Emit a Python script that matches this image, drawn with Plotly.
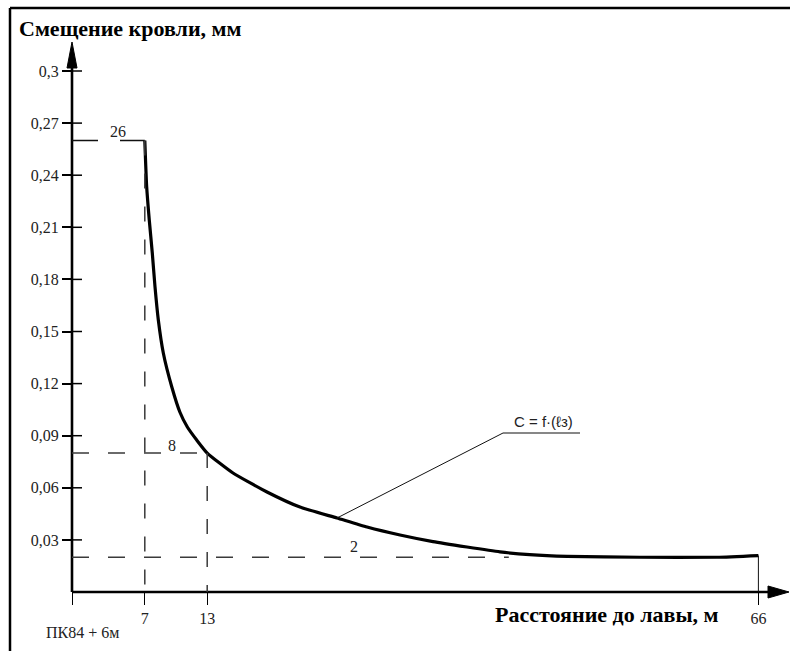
import plotly.graph_objects as go

# ---------------- data ----------------
dist_m = [7.0, 7.18, 7.43, 7.72, 7.98, 8.30, 8.78, 9.59, 10.38, 11.09, 11.99, 13.0,
          15.48, 18.75, 21.92, 25.48, 28.37, 31.54, 34.71, 37.98, 41.15, 44.0,
          47.6, 54.6, 62.0, 66.0]
displacement_mm = [0.26, 0.2334, 0.2142, 0.1952, 0.1758, 0.1566, 0.1376, 0.1182, 0.1035,
                   0.0950, 0.0875, 0.080, 0.0685, 0.0576, 0.0489, 0.0426, 0.0374, 0.0328,
                   0.0290, 0.0259, 0.0231, 0.0215, 0.0205, 0.0200, 0.0200, 0.0210]

y_tick_vals = [0.03, 0.06, 0.09, 0.12, 0.15, 0.18, 0.21, 0.24, 0.27, 0.30]
y_tick_text = ["0,03", "0,06", "0,09", "0,12", "0,15", "0,18", "0,21", "0,24", "0,27", "0,3"]
x_tick_vals = [0, 7, 13, 66]
x_tick_text = ["", "7", "13", "66"]
origin_label = "ПК84 + 6м"

# marked points: (distance, displacement, label)
marks_x = [7, 13, 42]
marks_y = [0.26, 0.08, 0.02]
marks_label = ["26", "8", "2"]
end_x = 66
end_y = 0.0210
leader_point = (25.48, 0.0426)

title_y = "Смещение кровли, мм"
title_x = "Расстояние до лавы, м"
formula = "C = f·(ℓз)"

# ---------------- geometry ----------------
W, H = 790, 651
X0PX, PX_PER_X = 72, 10.4          # x = 0 at pixel 72
Y0PX, PX_PER_Y = 592, 52.1 / 0.03  # y = 0 at pixel 592 (from top)

xr = [-X0PX / PX_PER_X, (W - X0PX) / PX_PER_X]
yr = [-(H - Y0PX) / PX_PER_Y, Y0PX / PX_PER_Y]

def dx(px):  # pixel length -> x units
    return px / PX_PER_X

def dy(px):
    return px / PX_PER_Y

def X(px):
    return (px - X0PX) / PX_PER_X

def Y(py):
    return (Y0PX - py) / PX_PER_Y

SERIF = "Liberation Serif, Times New Roman, serif"
INK = "#111"
DASH_COL = "#3a3a3a"

fig = go.Figure()

fig.add_trace(go.Scatter(
    x=dist_m, y=displacement_mm, mode="lines",
    line=dict(color="black", width=3.2, shape="spline", smoothing=0.5),
    hoverinfo="skip", showlegend=False))

shapes = []
# axes lines
shapes.append(dict(type="line", xref="x", yref="y", x0=0, y0=0, x1=X(775), y1=0,
                   line=dict(color="black", width=2.6)))
shapes.append(dict(type="line", xref="x", yref="y", x0=0, y0=0, x1=0, y1=Y(60),
                   line=dict(color="black", width=2.6)))
# arrowheads
shapes.append(dict(type="path", xref="x", yref="y",
                   path=f"M {-dx(5)} {Y(68)} L 0 {Y(42)} L {dx(5)} {Y(68)} Z",
                   fillcolor="black", line=dict(color="black", width=1)))
shapes.append(dict(type="path", xref="x", yref="y",
                   path=f"M {X(768)} {dy(6)} L {X(789)} 0 L {X(768)} {-dy(6)} Z",
                   fillcolor="black", line=dict(color="black", width=1)))
# inner halves of y ticks
for v in y_tick_vals:
    shapes.append(dict(type="line", xref="x", yref="y", x0=0, x1=dx(10), y0=v, y1=v,
                       line=dict(color="black", width=1.5)))

# guide lines for marked points
dash_h = "17px,19px"
dash_v = "15px,18px"
# 0.26 level
shapes.append(dict(type="line", xref="x", yref="y", x0=0, x1=marks_x[0], y0=marks_y[0], y1=marks_y[0],
                   line=dict(color=INK, width=1.5, dash="26px,22px")))
shapes.append(dict(type="line", xref="x", yref="y", x0=marks_x[0], x1=marks_x[0], y0=marks_y[0], y1=0,
                   line=dict(color=DASH_COL, width=1.5, dash=dash_v)))
# 0.08 level
shapes.append(dict(type="line", xref="x", yref="y", x0=0, x1=marks_x[1], y0=marks_y[1], y1=marks_y[1],
                   line=dict(color=DASH_COL, width=1.5, dash=dash_h)))
shapes.append(dict(type="line", xref="x", yref="y", x0=marks_x[1], x1=marks_x[1], y0=marks_y[1], y1=0,
                   line=dict(color=DASH_COL, width=1.5, dash=dash_v)))
# 0.02 level
shapes.append(dict(type="line", xref="x", yref="y", x0=0, x1=marks_x[2], y0=marks_y[2], y1=marks_y[2],
                   line=dict(color=DASH_COL, width=1.5, dash=dash_h)))
# end vertical at 66
shapes.append(dict(type="line", xref="x", yref="y", x0=end_x, x1=end_x, y0=end_y, y1=0,
                   line=dict(color=INK, width=1)))
# leader line + underline for formula
lx, ly = X(503), Y(433)
shapes.append(dict(type="line", xref="x", yref="y", x0=leader_point[0], y0=leader_point[1], x1=lx, y1=ly,
                   line=dict(color=INK, width=1)))
shapes.append(dict(type="line", xref="x", yref="y", x0=lx, y0=ly, x1=X(580), y1=ly,
                   line=dict(color=INK, width=1.2)))
# frame
shapes.append(dict(type="line", xref="paper", yref="paper", x0=10 / W, x1=1, y0=1 - 8 / H, y1=1 - 8 / H,
                   line=dict(color="black", width=2.5)))
shapes.append(dict(type="line", xref="paper", yref="paper", x0=10 / W, x1=10 / W, y0=0, y1=1 - 8 / H,
                   line=dict(color="black", width=2.5)))

annotations = []
label_pos = [(118, 131), (172, 445), (354, 546)]
for (px, py), lab in zip(label_pos, marks_label):
    annotations.append(dict(x=X(px), y=Y(py), xref="x", yref="y", text=lab, showarrow=False,
                            font=dict(family=SERIF, size=16, color="#222")))
annotations.append(dict(x=X(543), y=Y(421), xref="x", yref="y", text=formula, showarrow=False,
                        font=dict(family="Liberation Sans, Arial, sans-serif", size=15, color="#222")))
annotations.append(dict(x=17 / W, y=1 - 29 / H, xref="paper", yref="paper", text=f"<b>{title_y}</b>",
                        xanchor="left", yanchor="middle", showarrow=False,
                        font=dict(family=SERIF, size=22, color="black")))
annotations.append(dict(x=X(607), y=Y(614), xref="x", yref="y", text=f"<b>{title_x}</b>",
                        xanchor="center", yanchor="middle", showarrow=False,
                        font=dict(family=SERIF, size=22, color="black")))
annotations.append(dict(x=X(82), y=Y(632), xref="x", yref="y", text=origin_label,
                        xanchor="center", yanchor="middle", showarrow=False,
                        font=dict(family=SERIF, size=16, color="#222")))

fig.update_layout(
    width=W, height=H,
    margin=dict(l=0, r=0, t=0, b=0),
    paper_bgcolor="white", plot_bgcolor="white",
    showlegend=False,
    shapes=shapes, annotations=annotations,
    xaxis=dict(range=xr, domain=[0, 1], anchor="free", position=(H - Y0PX) / H,
               showgrid=False, zeroline=False, showline=False,
               tickmode="array", tickvals=x_tick_vals, ticktext=x_tick_text,
               ticks="outside", ticklen=12, tickwidth=1.2, tickcolor="black",
               tickfont=dict(family=SERIF, size=16, color="#222"), fixedrange=True),
    yaxis=dict(range=yr, domain=[0, 1], anchor="free", position=X0PX / W,
               showgrid=False, zeroline=False, showline=False,
               tickmode="array", tickvals=y_tick_vals, ticktext=y_tick_text,
               ticks="outside", ticklen=10, tickwidth=1.5, tickcolor="black",
               tickfont=dict(family=SERIF, size=16, color="#222"), fixedrange=True),
)

fig.write_html("out.html", config={"displayModeBar": False},
               post_script="document.body.style.margin='0px';document.body.style.overflow='hidden';")
